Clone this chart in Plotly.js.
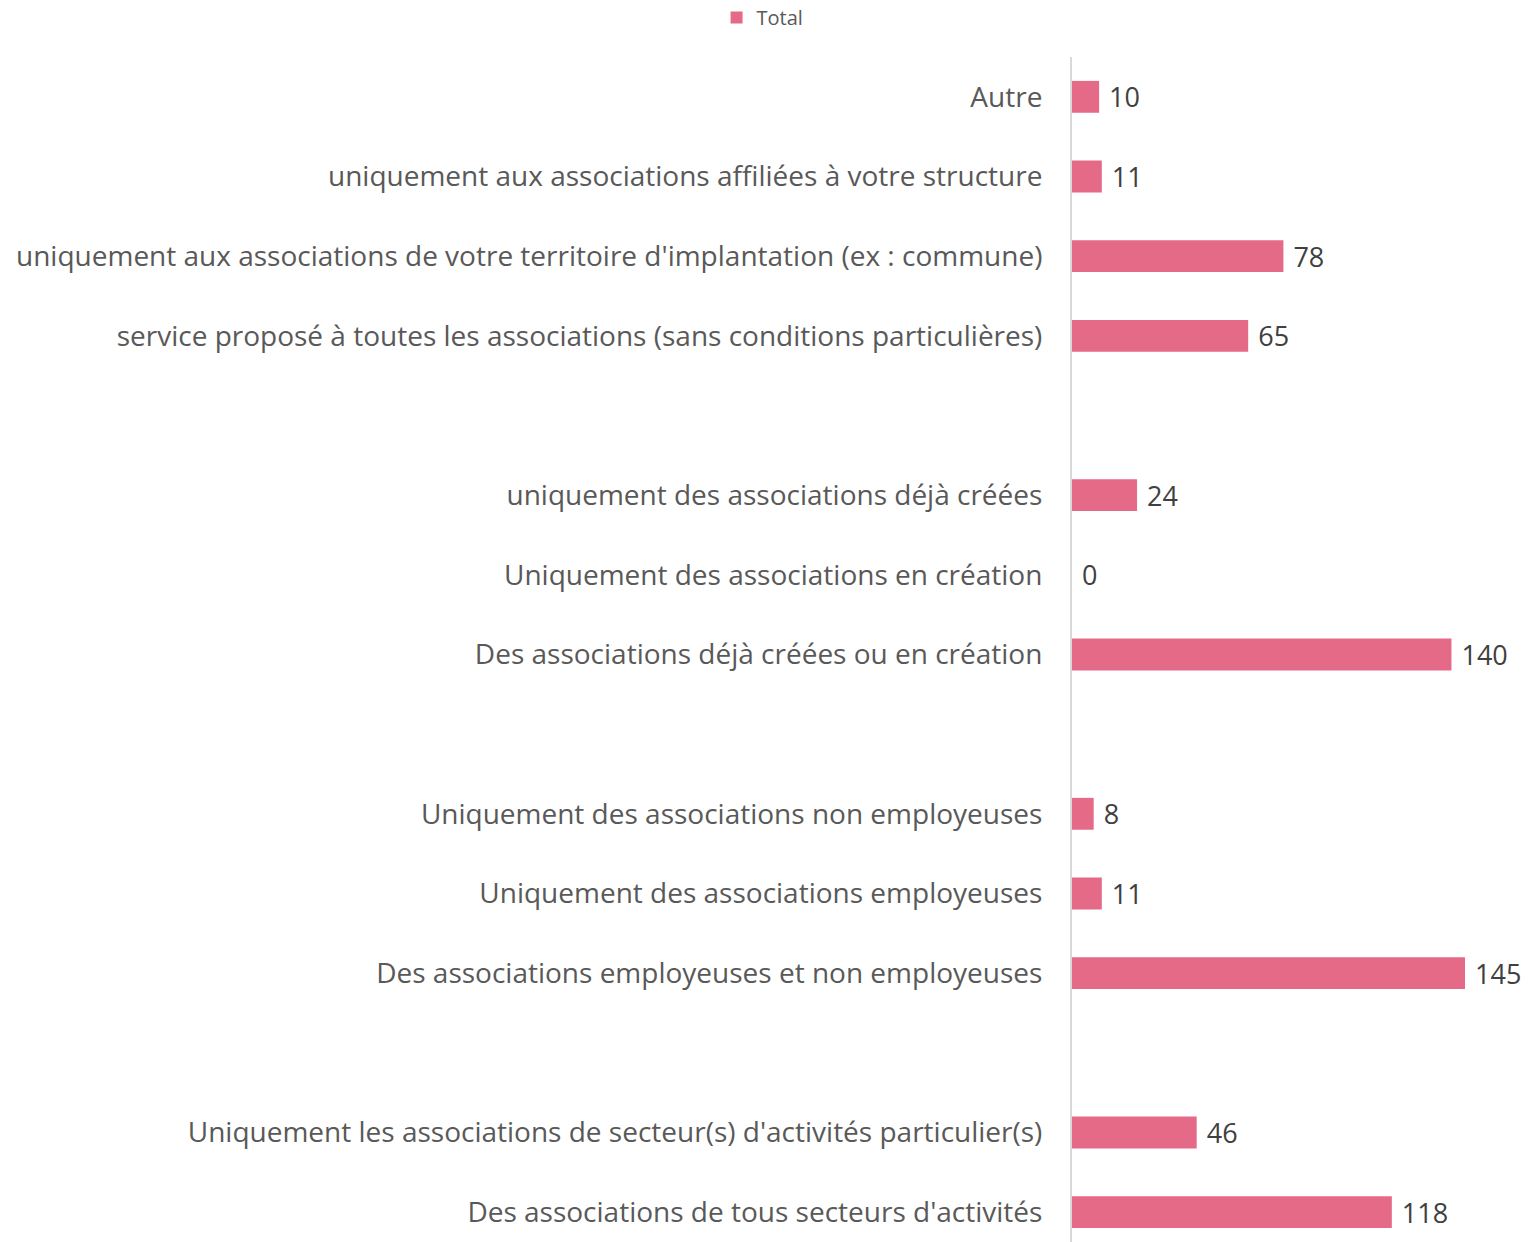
<!DOCTYPE html>
<html>
<head>
<meta charset="utf-8">
<script src="https://cdn.plot.ly/plotly-3.0.1.min.js"></script>
<style>html,body{margin:0;padding:0;background:#fff;}#chart{width:1539px;height:1242px;}</style>
</head>
<body>
<div id="chart"></div>
<script>
// Categories, top to bottom (blank entries are the gaps between groups)
const categories = [
  "Autre",
  "uniquement aux associations affiliées à votre structure",
  "uniquement aux associations de votre territoire d'implantation (ex : commune)",
  "service proposé à toutes les associations (sans conditions particulières)",
  " ",
  "uniquement des associations déjà créées",
  "Uniquement des associations en création",
  "Des associations déjà créées ou en création",
  "  ",
  "Uniquement des associations non employeuses",
  "Uniquement des associations employeuses",
  "Des associations employeuses et non employeuses",
  "   ",
  "Uniquement les associations de secteur(s) d'activités particulier(s)",
  "Des associations de tous secteurs d'activités"
];
const totals = [10, 11, 78, 65, null, 24, 0, 140, null, 8, 11, 145, null, 46, 118];
const seriesName = "Total";

const FONT = "'Open Sans', Lato, sans-serif";

const trace = {
  type: "bar",
  orientation: "h",
  name: seriesName,
  y: categories,
  x: totals,
  marker: {color: "#E56A87"},
  text: totals.map(v => v === null ? "" : String(v)),
  texttemplate: " %{text}",
  textposition: "outside",
  constraintext: "none",
  cliponaxis: false,
  textfont: {family: FONT, size: 27, color: "#404040"},
  hoverinfo: "x+y"
};

const layout = {
  width: 1539, height: 1242,
  margin: {l: 1072, r: 0, t: 57, b: 0},
  paper_bgcolor: "#fff", plot_bgcolor: "#fff",
  bargap: 0.6,
  showlegend: true,
  legend: {
    orientation: "h", xref: "container", yref: "container",
    x: 0.4955, xanchor: "center", y: 0.986, yanchor: "middle",
    font: {family: FONT, size: 20, color: "#595959"}
  },
  xaxis: {
    range: [0, 172.3], showgrid: false, zeroline: false, showline: false,
    showticklabels: false, ticks: ""
  },
  yaxis: {
    type: "category", categoryorder: "array", categoryarray: categories,
    range: [14.375, -0.5], showgrid: false, zeroline: false,
    showline: true, linecolor: "#D9D9D9", linewidth: 2,
    ticks: "", ticklabelstandoff: 22,
    tickfont: {family: FONT, size: 28, color: "#595959"}
  },
  font: {family: FONT}
};

Plotly.newPlot("chart", [trace], layout, {displayModeBar: false, staticPlot: true});
</script>
</body>
</html>
